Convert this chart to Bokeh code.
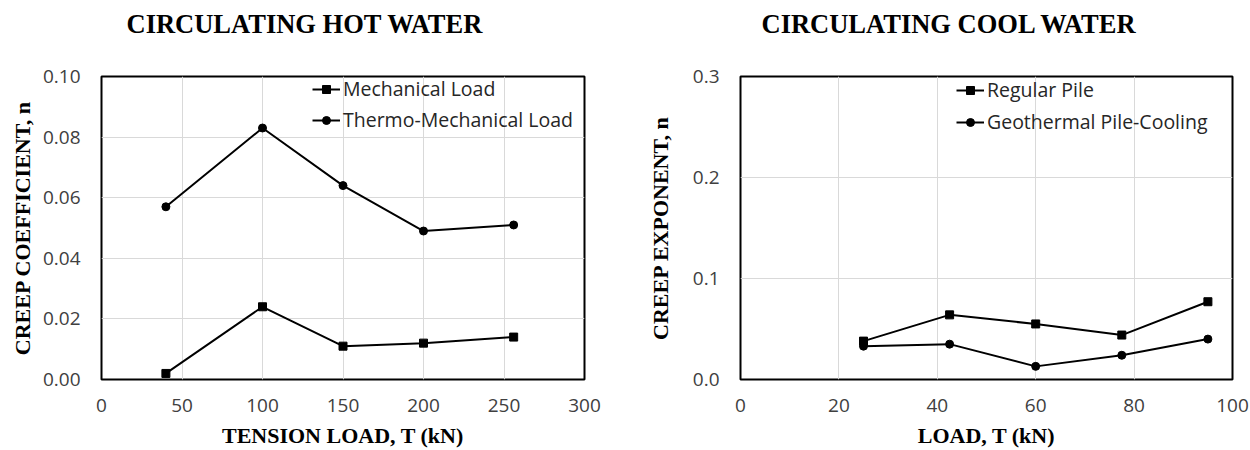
from bokeh.plotting import figure
from bokeh.layouts import row
from bokeh.models import Range1d, FixedTicker, NumeralTickFormatter, Title
from bokeh.embed import file_html
from bokeh.resources import INLINE

# ---------------- data ----------------
hot_load = [40, 100, 150, 200, 256]
hot_mechanical = [0.002, 0.024, 0.011, 0.012, 0.014]
hot_thermo = [0.057, 0.083, 0.064, 0.049, 0.051]
hot_xticks = [0, 50, 100, 150, 200, 250, 300]
hot_yticks = [0.0, 0.02, 0.04, 0.06, 0.08, 0.10]

cool_load = [25, 42.5, 60, 77.5, 95]
cool_regular = [0.038, 0.064, 0.055, 0.044, 0.077]
cool_geothermal = [0.033, 0.035, 0.013, 0.024, 0.040]
cool_xticks = [0, 20, 40, 60, 80, 100]
cool_yticks = [0.0, 0.1, 0.2, 0.3]

titles = ["CIRCULATING HOT WATER", "CIRCULATING COOL WATER"]
x_titles = ["TENSION LOAD, T (kN)", "LOAD, T (kN)"]
y_titles = ["CREEP COEFFICIENT, n", "CREEP EXPONENT, n"]

SERIF = "Liberation Serif"
SANS = "Open Sans"
TICK_COLOR = "#404040"

H = 450
TOP_BORDER = 76
BOTTOM_BORDER = 71


def make_panel(width, left, right, xr, yr, xticks, yticks, yfmt,
               title, title_offset, xlabel, ylabel, ylabel_standoff,
               series, legend_loc, legend_spacing):
    p = figure(width=width, height=H, output_backend="svg",
               toolbar_location=None, x_range=Range1d(*xr), y_range=Range1d(*yr))
    p.title.text = ""
    p.min_border_left = left
    p.min_border_right = right
    p.min_border_top = TOP_BORDER
    p.min_border_bottom = BOTTOM_BORDER
    p.background_fill_color = "white"
    p.border_fill_color = "white"
    p.outline_line_color = "black"
    p.outline_line_width = 2

    # invisible spacer between the frame and the title, then the title itself
    p.add_layout(Title(text=" ", text_font_size="1px", standoff=35,
                       vertical_align="bottom"), "above")
    p.add_layout(Title(text=title, align="left", offset=title_offset, standoff=0,
                       vertical_align="bottom", text_font=SERIF,
                       text_font_style="bold", text_font_size="26.5px",
                       text_color="black"), "above")

    p.xaxis.ticker = FixedTicker(ticks=xticks)
    p.yaxis.ticker = FixedTicker(ticks=yticks)
    p.yaxis.formatter = NumeralTickFormatter(format=yfmt)
    for ax in (p.xaxis, p.yaxis):
        ax.axis_line_color = None
        ax.major_tick_line_color = None
        ax.minor_tick_line_color = None
        ax.major_tick_out = 0
        ax.major_tick_in = 0
        ax.minor_tick_out = 0
        ax.minor_tick_in = 0
        ax.major_label_text_font = SANS
        ax.major_label_text_font_size = "19px"
        ax.major_label_text_color = TICK_COLOR
    p.xaxis.major_label_standoff = 19
    p.yaxis.major_label_standoff = 21
    p.yaxis.axis_label = ylabel
    p.yaxis.axis_label_standoff = ylabel_standoff
    p.yaxis.axis_label_text_font = SERIF
    p.yaxis.axis_label_text_font_style = "bold"
    p.yaxis.axis_label_text_font_size = "22px"
    p.yaxis.axis_label_text_color = "black"

    # x-axis title below the tick labels (with a small invisible spacer)
    p.add_layout(Title(text=" ", text_font_size="1px", standoff=5,
                       vertical_align="top"), "below")
    p.add_layout(Title(text=xlabel, align="center", standoff=0, vertical_align="top",
                       text_font=SERIF, text_font_style="bold", text_font_size="22px",
                       text_color="black"), "below")

    p.xgrid.grid_line_color = "#d9d9d9"
    p.ygrid.grid_line_color = "#d9d9d9"
    p.xgrid.grid_line_width = 1
    p.ygrid.grid_line_width = 1

    for xs, ys, marker, name in series:
        p.line(xs, ys, line_color="black", line_width=2, legend_label=name)
        p.scatter(xs, ys, marker=marker, size=8, fill_color="black",
                  line_color="black", legend_label=name)

    lg = p.legend[0]
    lg.location = legend_loc
    lg.border_line_color = None
    lg.background_fill_alpha = 0
    lg.padding = 0
    lg.margin = 0
    lg.spacing = legend_spacing
    lg.glyph_width = 28
    lg.glyph_height = 20
    lg.label_height = 25
    lg.label_standoff = 3
    lg.label_text_font = SANS
    lg.label_text_font_size = "19.5px"
    lg.label_text_color = "#262626"
    return p


p1 = make_panel(638, 101, 54, (0, 300), (0, 0.10), hot_xticks, hot_yticks, "0.00",
                titles[0], 25, x_titles[0], y_titles[0], 5,
                [(hot_load, hot_mechanical, "square", "Mechanical Load"),
                 (hot_load, hot_thermo, "circle", "Thermo-Mechanical Load")],
                (211, 246), 4)

p2 = make_panel(612, 102, 18, (0, 100), (0, 0.3), cool_xticks, cool_yticks, "0.0",
                titles[1], 21, x_titles[1], y_titles[1], 17,
                [(cool_load, cool_regular, "square", "Regular Pile"),
                 (cool_load, cool_geothermal, "circle", "Geothermal Pile-Cooling")],
                (216, 244), 5)

layout = row(p1, p2)
open("out.html", "w").write(file_html(layout, INLINE))
